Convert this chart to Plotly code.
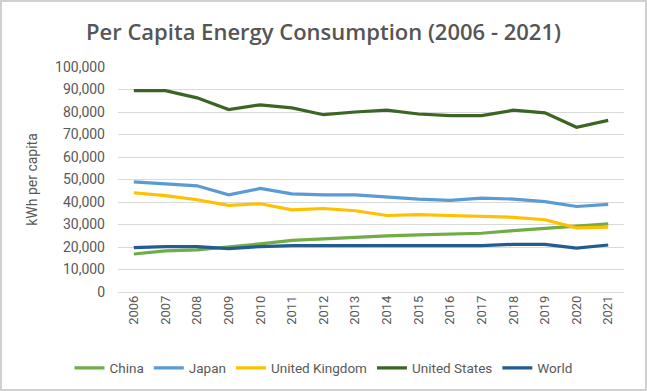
import plotly.graph_objects as go

years = [str(y) for y in range(2006, 2022)]
china = [16900, 18300, 18700, 19900, 21400, 22900, 23600, 24400, 24900, 25400, 25800, 26100, 27300, 28200, 29100, 30300]
japan = [48900, 48000, 47200, 43200, 46000, 43600, 43200, 43200, 42200, 41300, 40700, 41700, 41300, 40200, 38000, 38900]
uk = [44100, 42800, 41000, 38500, 39200, 36500, 37100, 36100, 34000, 34400, 34000, 33600, 33200, 32100, 28500, 28800]
us = [89500, 89500, 86300, 81100, 83200, 81800, 78800, 80000, 80800, 79100, 78400, 78400, 80800, 79600, 73200, 76300]
world = [19700, 20200, 20200, 19300, 20200, 20600, 20600, 20600, 20600, 20600, 20600, 20600, 21200, 21200, 19500, 20900]

series = [
    ("China", china, "#70AD47"),
    ("Japan", japan, "#5B9BD5"),
    ("United Kingdom", uk, "#FFC000"),
    ("United States", us, "#3C6424"),
    ("World", world, "#245C8F"),
]

FONT = "Roboto, sans-serif"

fig = go.Figure()
for name, vals, col in series:
    fig.add_trace(go.Scatter(x=years, y=vals, name=name, mode="lines",
                             line=dict(color=col, width=3.2)))

PW, PH = 506, 225
fig.update_layout(
    width=647, height=391,
    margin=dict(l=118, r=23, t=67, b=99, autoexpand=False),
    paper_bgcolor="white", plot_bgcolor="white",
    title=dict(text="Per Capita Energy Consumption (2006 - 2021)",
               x=0.5, xanchor="center", xref="container",
               y=1 - 32/391, yanchor="middle", yref="container",
               font=dict(family="Open Sans, sans-serif", size=22, color="#555555", weight=600)),
    font=dict(family=FONT, color="#595959", size=13),
    showlegend=True,
    legend=dict(orientation="h", xref="container", x=0.5, xanchor="center",
                yref="container", y=1 - 368/391, yanchor="middle",
                font=dict(family=FONT, size=13.5, color="#595959"),
                tracegroupgap=0),
    xaxis=dict(type="category", range=[-0.5, 15.5], tickangle=-90, automargin=False,
               showgrid=False, showline=False, ticks="",
               tickfont=dict(family=FONT, size=13, color="#595959")),
    yaxis=dict(range=[0, 100000], dtick=10000, tickformat=",d", automargin=False,
               showgrid=True, gridcolor="#D9D9D9", gridwidth=1,
               zeroline=True, zerolinecolor="#D9D9D9", zerolinewidth=1,
               showline=False, ticks="", ticklabelstandoff=12,
               tickfont=dict(family=FONT, size=14, color="#595959"),
               title=dict(text="kWh per capita", standoff=14,
                          font=dict(family=FONT, size=14, color="#595959"))),
)
# outer chart border
fig.add_shape(type="rect", xref="paper", yref="paper",
              x0=-118/PW + 1/PW, x1=1 + 23/PW - 1/PW, y0=-99/PH + 1/PH, y1=1 + 67/PH - 1/PH,
              line=dict(color="#D0D0D0", width=2))

fig.write_html("out.html", config={"displayModeBar": False},
               post_script="document.body.style.margin='0';")
